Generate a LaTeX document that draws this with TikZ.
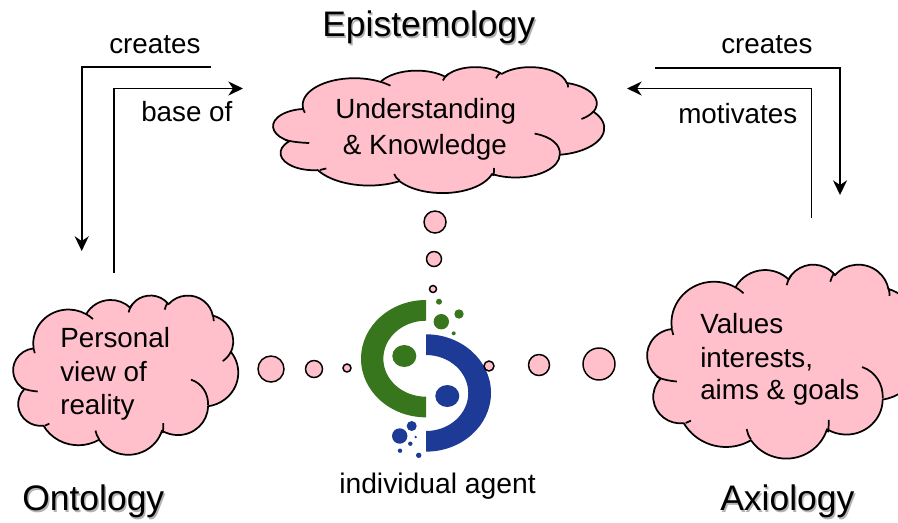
\documentclass[tikz,border=0pt]{standalone}
\usepackage{fontspec}
\setmainfont{Liberation Sans}
\usetikzlibrary{arrows.meta}
\definecolor{cloudpink}{RGB}{255,192,203}
\definecolor{logogreen}{RGB}{56,118,29}
\definecolor{logoblue}{RGB}{28,58,150}
\newcommand{\lobe}[4]{arc[start angle={atan2(#1*sin(#3),#2*cos(#3))},delta angle={mod(atan2(#1*sin(#3+#4),#2*cos(#3+#4))-atan2(#1*sin(#3),#2*cos(#3))+720,360)},x radius=#1*0.01pt,y radius=#2*0.01pt]}
\newcommand{\cloudshape}[4]{%
\begin{scope}[cm={#3*0.75/432,0,0,-#4*0.75/432,(#1,#2)},x=0.01pt,y=0.01pt]
\draw[cloudline,fill=cloudpink] (3900,14370)
 \lobe{6753}{9190}{-190.4875}{123.7805}
 \lobe{5333}{7267}{-144.1024}{89.9452}
 \lobe{4365}{5945}{-145.8079}{99.7230}
 \lobe{4857}{6595}{-130.9861}{117.2417}
 \lobe{5333}{7273}{-78.7089}{109.0269}
 \lobe{6775}{9220}{-46.2673}{130.2690}
 \lobe{5785}{7867}{0.6250}{114.0333}
 \lobe{6752}{9215}{22.4516}{115.1726}
 \lobe{7720}{10543}{66.2426}{75.7110}
 \lobe{4360}{5918}{-274.9421}{146.7356}
 \lobe{4345}{5945}{-246.8285}{152.5189} -- cycle;
\draw[cloudline]
 (4693,26177) .. controls (3800,26100) and (2500,25800) .. (1523,25143)
 (6928,34899) -- (6090,35430)
 (16478,39090) .. controls (16100,38400) and (15900,37600) .. (15792,36800)
 (28827,34751) .. controls (28850,35700) and (28800,36600) .. (28710,37486)
 (34129,22954) .. controls (36300,24000) and (37500,26800) .. (37414,29943)
 (41798,15354) .. controls (41500,16300) and (41000,17200) .. (40243,17943)
 (38324,5426) .. controls (38450,5900) and (38500,6500) .. (38500,7086)
 (29078,3952) .. controls (29200,3300) and (29400,2600) .. (29670,2057)
 (22141,4720) .. controls (22300,3900) and (22500,3200) .. (22840,2514)
 (14000,5192) .. controls (14400,5500) and (14900,6000) .. (15300,6514)
 (4127,15789) -- (3913,14629);
\end{scope}}
\newcommand{\shadowed}[4]{%
\node[titlefont,anchor=base west,text=black,text opacity=0.3] at (#1+1.5,#2+2) {#4};
\node[titlefont,anchor=base west] (#3) at (#1,#2) {#4};}
\tikzset{
 cloudline/.style={line width=1.3pt,black,line join=round},
 arrowline/.style={line width=1.4pt,black,-{Stealth[length=11pt,width=10.5pt,inset=3.5pt]}},
 dotstyle/.style={circle,draw=black,line width=1.1pt,fill=cloudpink,inner sep=0pt},
 label/.style={font=\fontsize{20.85pt}{25pt}\selectfont,inner sep=0pt,anchor=base west},
 titlefont/.style={font=\fontsize{26.6pt}{30pt}\selectfont,inner sep=0pt}
}
\begin{document}
\begin{tikzpicture}[x=0.75pt,y=-0.75pt]
\useasboundingbox (0,0) rectangle (898,522);
\clip (0,0) rectangle (898,522);
% clouds
\cloudshape{273.3}{66.7}{331}{126}
\cloudshape{13.3}{295}{225}{159.3}
\cloudshape{647.3}{264}{272}{194}
% cloud texts
\node[label] (t1a) at (335,118) {Understanding};
\node[label] (t1b) at (342.7,154) {\& Knowledge};
\node[label] (t2a) at (60,347) {Personal};
\node[label] (t2b) at (60,381) {view of};
\node[label] (t2c) at (60,414) {reality};
\node[label] (t3a) at (700,333) {Values};
\node[label] (t3b) at (700,367) {interests,};
\node[label] (t3c) at (700,399) {aims \& goals};
% titles
\shadowed{322}{36}{epi}{Epistemology}
\shadowed{22}{510}{ont}{Ontology}
\shadowed{720}{510}{axi}{Axiology}
% connector labels
\node[label] (l1) at (109,53) {creates};
\node[label] (l2) at (141,121) {base of};
\node[label] (l3) at (721,53) {creates};
\node[label] (l4) at (678,123) {motivates};
\node[label,font=\fontsize{21.2pt}{25pt}\selectfont] (l5) at (339,493) {individual agent};
% connectors
\coordinate (a1) at (211,66.7); \coordinate (a1b) at (81.7,66.7); \coordinate (a1c) at (81.7,251);
\coordinate (a2) at (114,273); \coordinate (a2b) at (114,88.5); \coordinate (a2c) at (243,88.5);
\coordinate (a3) at (655,67.7); \coordinate (a3b) at (840,67.7); \coordinate (a3c) at (840,195);
\coordinate (a4) at (811.5,218); \coordinate (a4b) at (811.5,88.5); \coordinate (a4c) at (627,88.5);
\draw[arrowline] (a1) -- (a1b) -- (a1c);
\draw[arrowline] (a2) -- (a2b) -- (a2c);
\draw[arrowline] (a3) -- (a3b) -- (a3c);
\draw[arrowline] (a4) -- (a4b) -- (a4c);
% logo
\fill[logogreen] (426,300) arc[start angle=90,delta angle=180,x radius=48.75pt,y radius=44pt] -- (426,396.7) arc[start angle=-90,delta angle=-180,x radius=32pt,y radius=28.5pt] -- cycle;
\fill[logoblue] (426,334.3) arc[start angle=90,delta angle=-180,x radius=48.75pt,y radius=44pt] -- (426,431) arc[start angle=-90,delta angle=180,x radius=31.7pt,y radius=28.5pt] -- cycle;
\fill[logogreen] (404.3,356) ellipse[x radius=9pt,y radius=8.25pt];
\fill[logoblue] (447.3,396) ellipse[x radius=9pt,y radius=8.25pt];
\foreach \x/\y/\r in {439/301.7/3,441.3/321.7/7.7,459/314/4.7,453.7/333.3/2}{\fill[logogreen] (\x,\y) circle[radius=\r*0.75pt];}
\foreach \x/\y/\r in {411.7/426/5,399.7/436/7.7,415.7/437/1.3,410.3/443.7/2.2,400/450.7/2.2,418.7/455.3/2.7}{\fill[logoblue] (\x,\y) circle[radius=\r*0.75pt];}
% dots
\foreach \n/\x/\y/\d in {d1/435/222/22,d2/434/259/15,d3/433/289/7,d4/271/369/26,d5/314/369/17,d6/347/368/8,d7/489/366/10,d8/539/365/21,d9/599/364/32}{
 \node[dotstyle,minimum size=\d*0.75pt] (\n) at (\x,\y) {};}
\end{tikzpicture}
\end{document}
